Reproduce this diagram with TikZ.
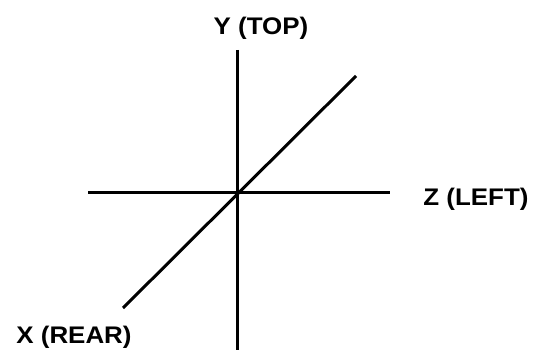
\documentclass[tikz,border=0pt]{standalone}
\usepackage{fontspec}
\setmainfont{Liberation Sans}[FakeStretch=1.08]
\usepackage{xcolor}
\usepackage{tikz}
\definecolor{axisblack}{HTML}{000000}
\tikzset{
  axis/.style={draw=axisblack,line width=3pt},
  axis label/.style={anchor=base,inner sep=0pt,text=axisblack,
    font=\fontsize{24}{24}\selectfont\bfseries}
}

\begin{document}
\begin{tikzpicture}[x=1pt,y=-1pt]
  \useasboundingbox (0,0) rectangle (535,358);
  \coordinate (o) at (237,193);
  \coordinate (ytop) at (237,50);
  \coordinate (ybot) at (237,350);
  \coordinate (zleft) at (88,193);
  \coordinate (zright) at (390,193);
  \coordinate (xrear) at (123,308);
  \coordinate (xfront) at (356,76);
  \draw[axis] (ytop)--(ybot);
  \draw[axis] (zleft)--(zright);
  \draw[axis] (xrear)--(xfront);
  \node[axis label] (ylabel) at (261,35) {Y (TOP)};
  \node[axis label] (zlabel) at (476,205) {Z (LEFT)};
  \node[axis label] (xlabel) at (74,343) {X (REAR)};
\end{tikzpicture}
\end{document}
